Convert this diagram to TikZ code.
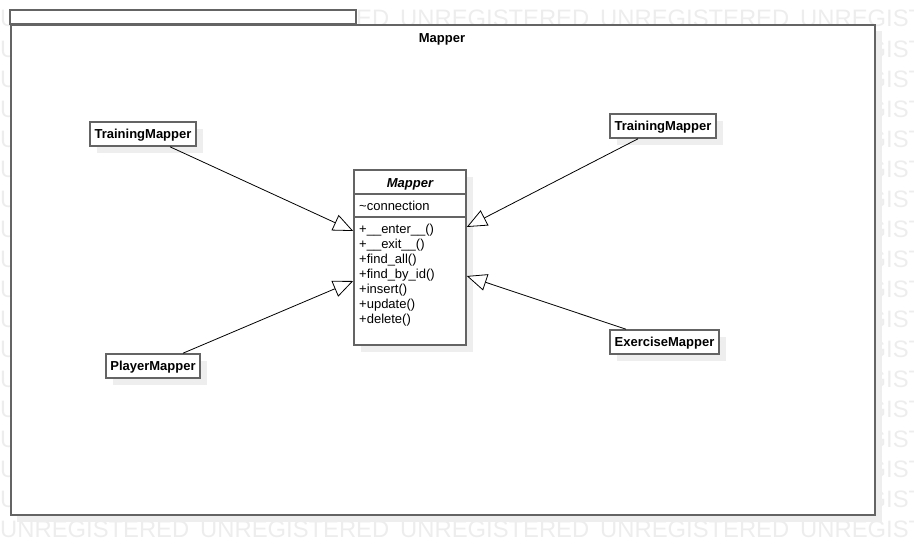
\documentclass[tikz,border=0pt]{standalone}
\usepackage{fontspec}
\setmainfont{Liberation Sans}
\usetikzlibrary{arrows.meta}
\definecolor{wm}{RGB}{237,237,237}
\definecolor{shd}{RGB}{238,238,238}
\definecolor{bord}{RGB}{100,100,100}
\tikzset{
  shadowed/.style={preaction={fill=shd, transform canvas={xshift=7pt,yshift=-7pt}}},
  umlbox/.style={draw=bord, line width=1.6pt, fill=white, inner sep=0pt},
  smallbox/.style={umlbox, shadowed, minimum height=24pt, text height=12.3pt, text depth=3pt, font=\fontsize{13}{15}\selectfont\bfseries},
  wmark/.style={anchor=base west, inner sep=0pt, text=wm, font=\fontsize{23.8}{25}\selectfont},
  member/.style={anchor=base west, inner sep=0pt, font=\fontsize{13}{15}\selectfont},
  gen/.style={draw=black, line width=0.8pt, -{Triangle[open,length=20pt,width=17pt,fill=white]}},
}
\begin{document}
\begin{tikzpicture}[x=1pt,y=-1pt]
\useasboundingbox (0,0) rectangle (914,554);
\clip (0,0) rectangle (914,554);
% watermark
\foreach \r in {0,...,17}{
  \foreach \c in {0,...,4}{
    \node[wmark] (w\r-\c) at (\c*200, 537-\r*30) {UNREGISTERED};
  }
}
% package
\fill[shd] (17,31) rectangle (882,522);
\draw[bord, line width=1.6pt, fill=white] (10,10) rectangle (356,24);
\node[umlbox, minimum width=864pt, minimum height=490pt, anchor=north west] (pkg) at (10,24) {};
\node[anchor=base, inner sep=0pt, font=\fontsize{13}{15}\selectfont\bfseries] (pkgtitle) at (442,42) {Mapper};
% class Mapper
\node[umlbox, shadowed, minimum width=112pt, minimum height=175pt] (mapper) at (410,257.5) {};
\draw[bord, line width=1.6pt] ([yshift=-25pt]mapper.north west) -- ([yshift=-25pt]mapper.north east);
\draw[bord, line width=1.6pt] ([yshift=-48pt]mapper.north west) -- ([yshift=-48pt]mapper.north east);
\node[anchor=base, inner sep=0pt, font=\fontsize{13}{15}\selectfont\bfseries\itshape] (mtitle) at (410,187) {Mapper};
\node[member] (attr) at (359,210) {\textasciitilde connection};
\node[member] (op1) at (359,233) {+\textunderscore\textunderscore enter\textunderscore\textunderscore()};
\node[member] (op2) at (359,248) {+\textunderscore\textunderscore exit\textunderscore\textunderscore()};
\node[member] (op3) at (359,263) {+find\textunderscore all()};
\node[member] (op4) at (359,278) {+find\textunderscore by\textunderscore id()};
\node[member] (op5) at (359,293) {+insert()};
\node[member] (op6) at (359,308) {+update()};
\node[member] (op7) at (359,323) {+delete()};
% subclasses
\node[smallbox, minimum width=106pt] (tml) at (143,134) {TrainingMapper};
\node[smallbox, minimum width=106pt] (tmr) at (663,126) {TrainingMapper};
\node[smallbox, minimum width=94pt] (pm) at (153,366) {PlayerMapper};
\node[smallbox, minimum width=109pt] (em) at (664.5,342) {ExerciseMapper};
% generalizations
\draw[gen] ([xshift=27pt]tml.south) -- ([yshift=26.5pt]mapper.west);
\draw[gen] ([xshift=30pt]pm.north) -- ([yshift=-23.5pt]mapper.west);
\draw[gen] ([xshift=-25pt]tmr.south) -- ([yshift=30.5pt]mapper.east);
\draw[gen] ([xshift=-38.5pt]em.north) -- ([yshift=-18.5pt]mapper.east);
\end{tikzpicture}
\end{document}
